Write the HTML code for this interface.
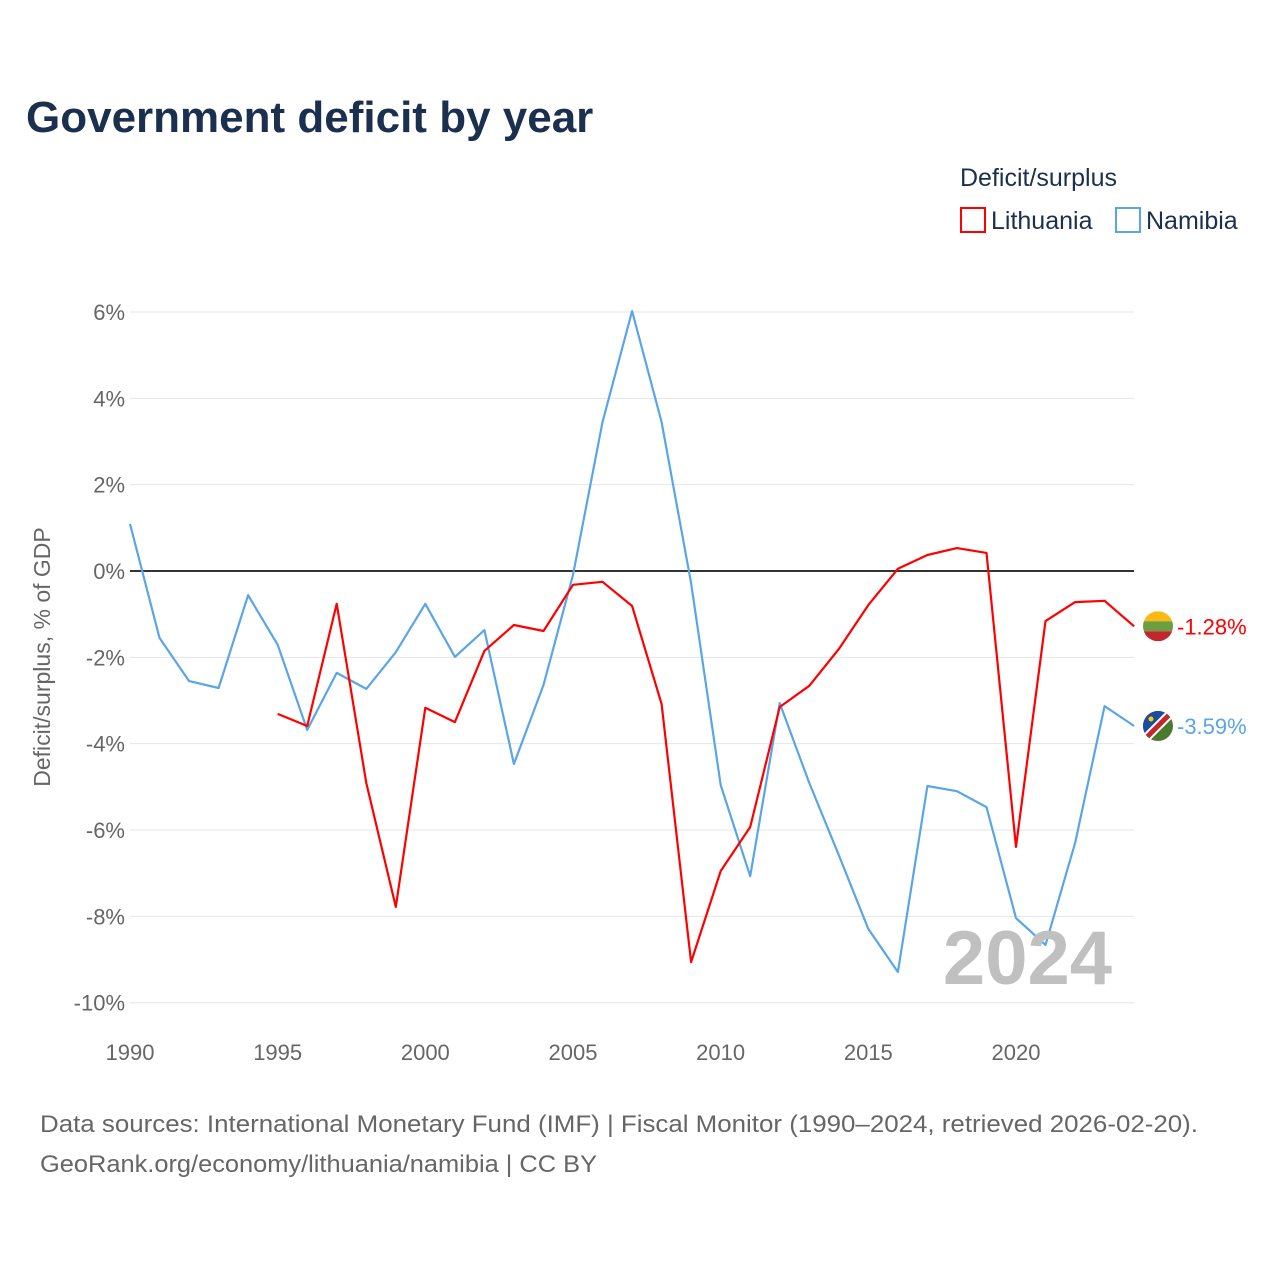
<!DOCTYPE html>
<html><head><meta charset="utf-8">
<style>
body{margin:0;background:#fff;}
svg text{font-family:"Liberation Sans",sans-serif;}
</style></head>
<body>
<svg id="chart" width="1280" height="1280" xmlns="http://www.w3.org/2000/svg">
<text x="26" y="132" font-size="44" font-weight="bold" fill="#1b2f4e">Government deficit by year</text>
<text x="960" y="186" font-size="25" fill="#1b2f4e">Deficit/surplus</text>
<g><rect x="961" y="208" width="24" height="24" fill="none" stroke="#ff0000" stroke-width="2"/><text x="991" y="229" font-size="25" fill="#1b2f4e">Lithuania</text></g>
<g><rect x="1116" y="208" width="24" height="24" fill="none" stroke="#5aa5e8" stroke-width="2"/><text x="1146" y="229" font-size="25" fill="#1b2f4e">Namibia</text></g>
<text transform="translate(50,657) rotate(-90)" text-anchor="middle" font-size="23" fill="#666">Deficit/surplus, % of GDP</text>
<g id="grid"></g><g id="series"></g>
<text x="1112" y="984" text-anchor="end" font-size="76" font-weight="bold" fill="#c0c0c0">2024</text>
<text x="40" y="1132" font-size="24" fill="#666" textLength="1158" lengthAdjust="spacingAndGlyphs">Data sources: International Monetary Fund (IMF) | Fiscal Monitor (1990–2024, retrieved 2026-02-20).</text>
<text x="40" y="1172" font-size="24" fill="#666" textLength="557" lengthAdjust="spacingAndGlyphs">GeoRank.org/economy/lithuania/namibia | CC BY</text>
</svg>
<script>
const years=[];for(let y=1990;y<=2024;y++)years.push(y);
const namibia=[1.09,-1.55,-2.55,-2.71,-0.56,-1.71,-3.68,-2.36,-2.73,-1.88,-0.76,-1.99,-1.37,-4.47,-2.64,-0.09,3.45,6.02,3.45,-0.28,-4.96,-7.07,-3.06,-4.91,-6.58,-8.29,-9.29,-4.98,-5.10,-5.47,-8.04,-8.66,-6.30,-3.13,-3.59];
const lithuania=[null,null,null,null,null,-3.31,-3.59,-0.76,-4.91,-7.78,-3.17,-3.50,-1.85,-1.25,-1.39,-0.32,-0.25,-0.81,-3.08,-9.06,-6.95,-5.93,-3.15,-2.66,-1.81,-0.79,0.05,0.37,0.53,0.42,-6.39,-1.16,-0.72,-0.69,-1.28];
const yTicks=[6,4,2,0,-2,-4,-6,-8,-10];
const xTicks=[1990,1995,2000,2005,2010,2015,2020];
const X=y=>130+(y-1990)*29.533;
const Y=v=>571-v*43.17;
const NS="http://www.w3.org/2000/svg";
function mk(t,a,p){const e=document.createElementNS(NS,t);for(const k in a)e.setAttribute(k,a[k]);p.appendChild(e);return e;}
const g=document.getElementById('grid');
yTicks.forEach(v=>{
 const l=mk('line',{x1:130,x2:1134,y1:Y(v),y2:Y(v),stroke:v===0?'#333':'#e6e6e6','stroke-width':v===0?2:1},g);
 
 
 const t=mk('text',{x:125,y:Y(v)+8,'text-anchor':'end','font-size':22,fill:'#666'},g);
 t.textContent=v+'%';
 
 
});
xTicks.forEach(y=>{
 const t=mk('text',{x:X(y),y:1060,'text-anchor':'middle','font-size':22,fill:'#666'},g);
 t.textContent=y;
 
 
});
const s=document.getElementById('series');
function line(vals,color,name){
 let d='';vals.forEach((v,i)=>{if(v===null)return;d+=(d?'L':'M')+X(years[i]).toFixed(1)+','+Y(v).toFixed(1);});
 const p=mk('path',{d:d,fill:'none',stroke:color,'stroke-width':2.2,'stroke-linejoin':'round'},s);
 
 
 const last=vals[vals.length-1];
 const t=mk('text',{x:1177,y:Y(last)+8,'font-size':22,fill:color},s);
 t.textContent=last.toFixed(2)+'%';
 
 
 return Y(last);
}
line(namibia,'#5aa5e8','namibia-line');
const ly=line(lithuania,'#ff0000','lithuania-line');
const ny=Y(namibia[namibia.length-1]);
const defs=mk('defs',{},document.getElementById('chart'));
const c1=mk('clipPath',{id:'c1'},defs);mk('circle',{cx:1158,cy:ly,r:15},c1);
const c2=mk('clipPath',{id:'c2'},defs);mk('circle',{cx:1158,cy:ny,r:15},c2);
const fl=mk('g',{'clip-path':'url(#c1)'},s);


mk('rect',{x:1143,y:ly-15,width:30,height:10,fill:'#fdb913'},fl);
mk('rect',{x:1143,y:ly-5,width:30,height:10,fill:'#6a9e3f'},fl);
mk('rect',{x:1143,y:ly+5,width:30,height:10,fill:'#c1272d'},fl);
const fn=mk('g',{'clip-path':'url(#c2)'},s);


mk('rect',{x:1143,y:ny-15,width:30,height:30,fill:'#4a7a2e'},fn);
mk('path',{d:`M1143,${ny-15}L1173,${ny-15}L1143,${ny+15}Z`,fill:'#1d4c9a'},fn);
mk('line',{x1:1143,y1:ny+15,x2:1173,y2:ny-15,stroke:'#fff','stroke-width':9},fn);
mk('line',{x1:1143,y1:ny+15,x2:1173,y2:ny-15,stroke:'#c1272d','stroke-width':5},fn);
mk('circle',{cx:1151,cy:ny-7,r:2.5,fill:'#ffce00'},fn);
</script>
</body></html>
